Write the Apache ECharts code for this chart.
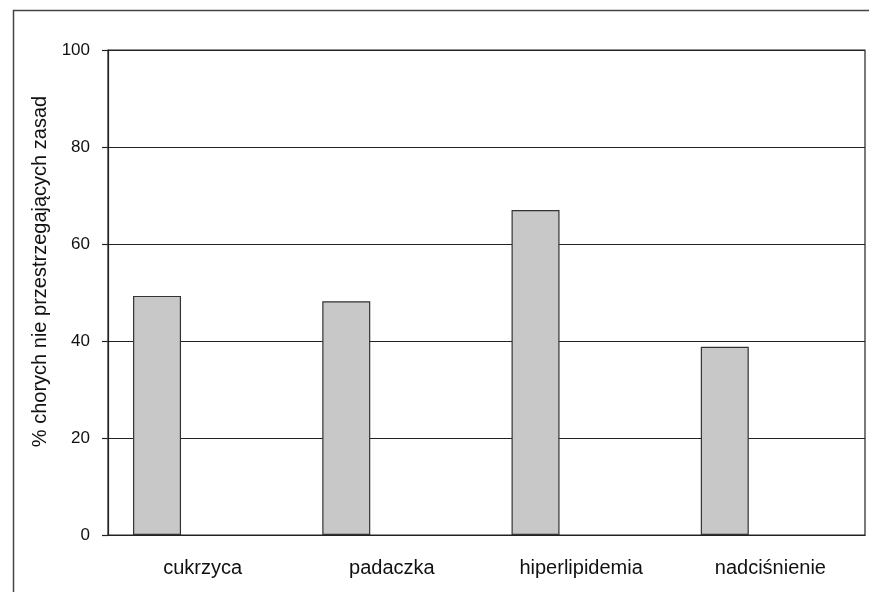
<!DOCTYPE html>
<html>
<head>
<meta charset="utf-8">
<script src="https://cdn.jsdelivr.net/npm/echarts@6/dist/echarts.min.js"></script>
<style>
  html, body { margin: 0; padding: 0; background: #fff; }
  #chart { width: 869px; height: 592px; }
</style>
</head>
<body>
<div id="chart"></div>
<script>
const categories = ['cukrzyca', 'padaczka', 'hiperlipidemia', 'nadciśnienie']
const values = [49.3, 48.2, 67.0, 38.8]
// empty second series keeps the bars left of the slot centre, as in the source
const emptyValues = [null, null, null, null]
const yTicks = [0, 20, 40, 60, 80, 100]

const fontFamily = "'Liberation Sans', Arial, sans-serif"
const lineColor = '#222'

const myChart = echarts.init(document.getElementById('chart'))

const option = {
  animation: false,
  textStyle: { fontFamily },
  graphic: [{
    type: 'rect',
    left: 11,
    top: 8,
    shape: { width: 900, height: 620 },
    style: { fill: 'none', stroke: '#444', lineWidth: 1.5 },
    silent: true
  }],
  grid: {
    left: 108,
    right: 4,
    top: 50,
    bottom: 57,
    show: true,
    borderColor: lineColor,
    borderWidth: 1.2
  },
  xAxis: {
    type: 'category',
    data: categories,
    axisLine: { lineStyle: { color: lineColor, width: 1.2 } },
    axisTick: { length: 6, lineStyle: { color: lineColor, width: 1.2 } },
    axisLabel: {
      color: '#111',
      fontSize: 20,
      margin: 23,
      fontFamily
    }
  },
  yAxis: {
    type: 'value',
    min: yTicks[0],
    max: yTicks[yTicks.length - 1],
    interval: 20,
    name: '% chorych nie przestrzegających zasad',
    nameLocation: 'middle',
    nameGap: 58,
    nameTextStyle: { color: '#111', fontSize: 20, fontFamily, padding: [0, 0, 0, 42] },
    axisLine: { show: true, lineStyle: { color: lineColor, width: 1.2 } },
    axisTick: { show: true, length: 6, lineStyle: { color: lineColor, width: 1.2 } },
    axisLabel: {
      color: '#111',
      fontSize: 17,
      margin: 18,
      fontFamily
    },
    splitLine: { lineStyle: { color: lineColor, width: 1.2 } }
  },
  series: [
    {
      name: 'procent',
      type: 'bar',
      data: values,
      barWidth: 48,
      barGap: '90%',
      itemStyle: {
        color: '#c8c8c8',
        borderColor: '#333',
        borderWidth: 1.2
      }
    },
    {
      name: 'puste',
      type: 'bar',
      data: emptyValues,
      barWidth: 48
    }
  ]
}

myChart.setOption(option)
</script>
</body>
</html>
